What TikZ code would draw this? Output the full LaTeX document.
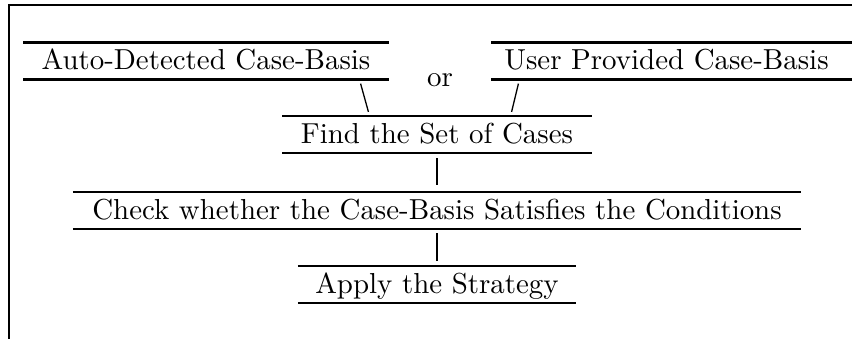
\documentclass[tikz,border=0pt]{standalone}
\usetikzlibrary{calc}
\begin{document}
\begin{tikzpicture}[x=0.346pt,y=-0.346pt,
  rulebox/.style={inner sep=0pt, text height=9.2pt, text depth=3.3pt, minimum width=#1*0.346pt},
  rule/.style={line width=0.85pt},
  conn/.style={line width=0.45pt},
  plain/.style={inner sep=0pt}]
\useasboundingbox (0,0) rectangle (852,339);
% frame
\draw[rule] (9,339) -- (9,5) -- (852,5);
% nodes
\node[rulebox=364] (auto) at (206,61) {Auto-Detected Case-Basis};
\node[rulebox=349] (user) at (666.5,61) {User Provided Case-Basis};
\node[plain, anchor=base] (or) at (440,87) {or};
\node[rulebox=308] (find) at (437,134.5) {Find the Set of Cases};
\node[rulebox=727] (check) at (437,210.5) {Check whether the Case-Basis Satisfies the Conditions};
\node[rulebox=277] (apply) at (437,284.5) {Apply the Strategy};
% rules above and below the boxes
\foreach \n in {auto,find,check,apply}
  \draw[rule] (\n.north west) -- (\n.north east) (\n.south west) -- (\n.south east);
\draw[rule] (user.north west) -- (user.north west -| 852,0)
            (user.south west) -- (user.south west -| 852,0);
% connectors
\draw[conn] ($(auto.south east)+(-28,4)$) -- ($(find.north west)+(86,-4)$);
\draw[conn] ($(user.south west)+(27,4)$) -- ($(find.north east)+(-80,-4)$);
\draw[conn] ($(find.south)+(0,5)$) -- ($(check.north)+(0,-7)$);
\draw[conn] ($(check.south)+(0,4)$) -- ($(apply.north)+(0,-5)$);
\end{tikzpicture}
\end{document}
